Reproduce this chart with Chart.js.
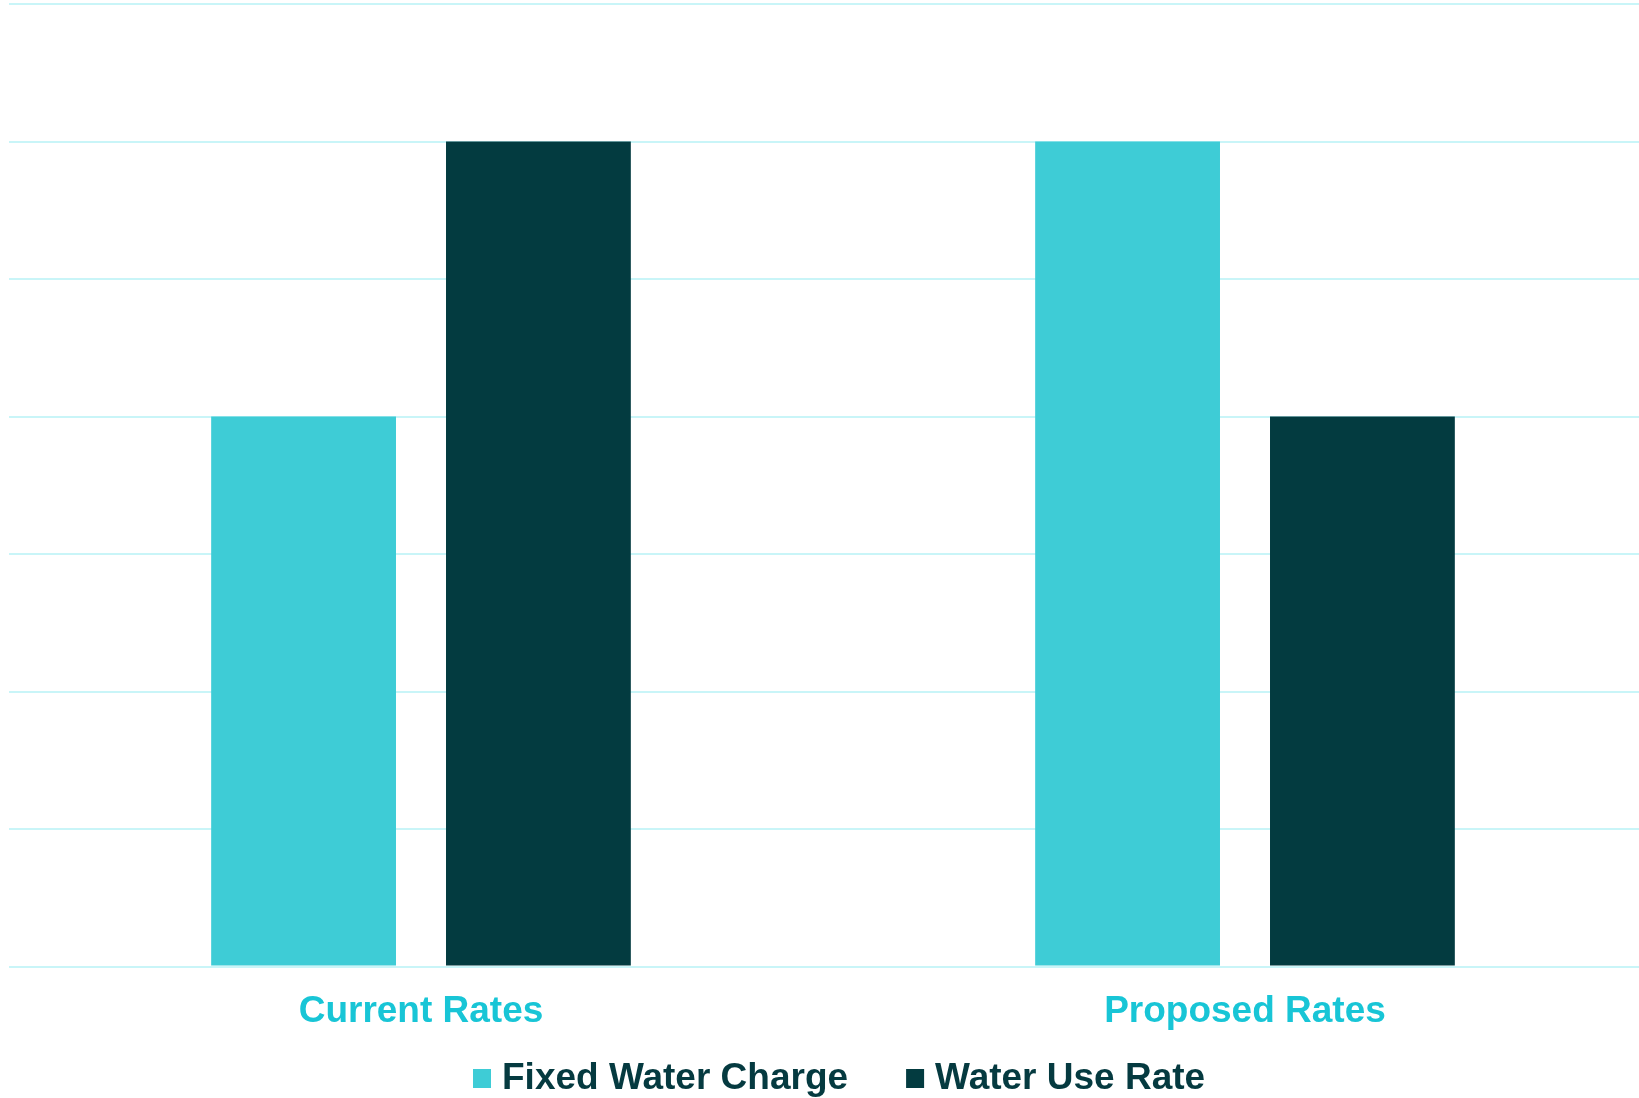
<!DOCTYPE html>
<html>
<head>
<meta charset="utf-8">
<script src="https://cdn.jsdelivr.net/npm/chart.js@4/dist/chart.umd.min.js"></script>
<style>
  html, body { margin: 0; padding: 0; background: #fff; overflow: hidden; }
  #wrap { width: 1657px; height: 1098px; }
</style>
</head>
<body>
<div id="wrap"><canvas id="myChart"></canvas></div>
<script>
const categories = ["Current Rates", "Proposed Rates"];
const seriesNames = ["Fixed Water Charge", "Water Use Rate"];
const fixedCharge = [40, 60];
const waterUse = [60, 40];
const yMax = 70;
const yStep = 10;

const cyan = "#3ECCD6";
const dark = "#033B40";

// legend drawn by hand so the spacing matches the original
const bottomLegend = {
  id: "bottomLegend",
  afterDraw(chart) {
    const ctx = chart.ctx;
    ctx.save();
    ctx.font = "bold 37px 'Liberation Sans', Arial, sans-serif";
    ctx.textBaseline = "alphabetic";
    let x = 473;
    chart.data.datasets.forEach((ds) => {
      ctx.fillStyle = ds.backgroundColor;
      ctx.fillRect(x, 1069, 18, 19);
      ctx.fillStyle = "#053A40";
      ctx.fillText(ds.label, x + 29, 1089);
      x += 29 + ctx.measureText(ds.label).width + 58;
    });
    ctx.restore();
  },
};

function renderChart() {
  const ctx = document.getElementById("myChart");

  new Chart(ctx, {
    type: "bar",
    data: {
      labels: categories,
      datasets: [
        {
          label: seriesNames[0],
          data: fixedCharge,
          backgroundColor: cyan,
          borderWidth: 0,
        },
        {
          label: seriesNames[1],
          data: waterUse,
          backgroundColor: dark,
          borderWidth: 0,
        },
      ],
    },
    options: {
      responsive: true,
      maintainAspectRatio: false,
      animation: false,
      categoryPercentage: 0.57,
      barPercentage: 0.787,
      layout: { padding: { left: 9, top: 4, right: 0, bottom: 41 } },
      plugins: {
        legend: { display: false },
        tooltip: { enabled: false },
      },
      scales: {
        x: {
          grid: { display: false, drawTicks: false },
          border: { display: false },
          ticks: {
            color: "#18C5D6",
            padding: 23,
            font: { family: "'Liberation Sans', Arial, sans-serif", size: 37, weight: "bold" },
          },
        },
        y: {
          min: 0,
          max: yMax,
          grid: { color: "#C9F5F8", lineWidth: 2, drawTicks: false },
          border: { display: false },
          ticks: { display: false, stepSize: yStep },
        },
      },
    },
    plugins: [bottomLegend],
  });
}

renderChart();
</script>
</body>
</html>
